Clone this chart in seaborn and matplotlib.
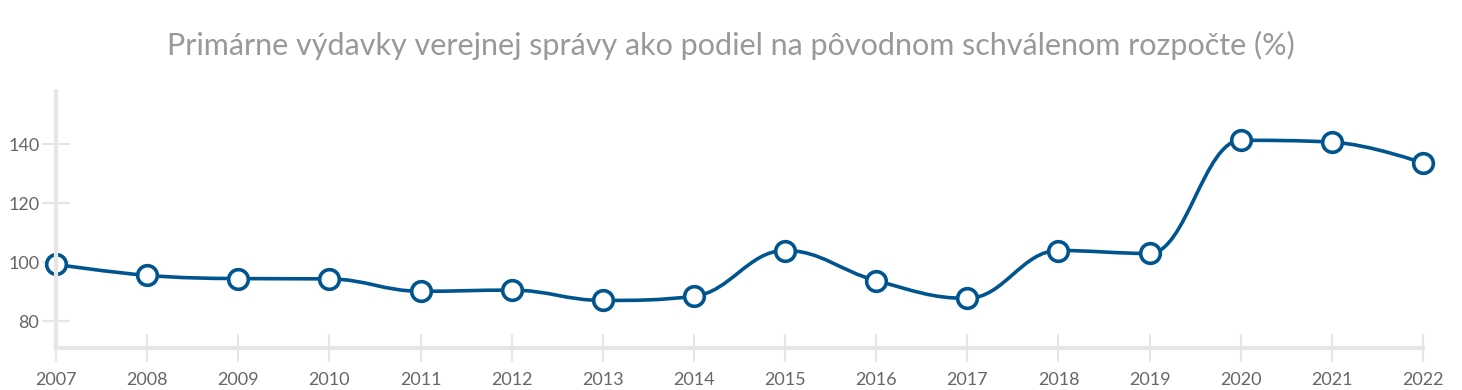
import matplotlib
matplotlib.use("Agg")
import matplotlib.pyplot as plt
from matplotlib.path import Path
from matplotlib.patches import PathPatch
import numpy as np
import pandas as pd
import seaborn as sns

# Data
years = [2007, 2008, 2009, 2010, 2011, 2012, 2013, 2014,
         2015, 2016, 2017, 2018, 2019, 2020, 2021, 2022]
values = [99.3, 95.6, 94.5, 94.4, 90.2, 90.6, 87.1, 88.5,
          104.0, 93.8, 87.8, 104.0, 103.0, 141.3, 140.7, 133.6]
y_ticks = [80, 100, 120, 140]
title = "Primárne výdavky verejnej správy ako podiel na pôvodnom schválenom rozpočte (%)"

df = pd.DataFrame({"year": years, "value": values})

blue = "#00558f"
grid_grey = "#e6e6e6"
label_grey = "#666666"

sns.set_style("white")
plt.rcParams["font.family"] = ["Lato", "DejaVu Sans"]


def spline_path(xs, ys, smoothing=1.5):
    # smooth line through the points (Highcharts-like spline control points)
    n = len(xs)
    denom = smoothing + 1
    left = [(xs[0], ys[0])] * n
    right = [(xs[0], ys[0])] * n
    for i in range(n):
        x, y = xs[i], ys[i]
        if i == 0 or i == n - 1:
            left[i] = (x, y)
            right[i] = (x, y)
            continue
        lx, ly = xs[i - 1], ys[i - 1]
        nx, ny = xs[i + 1], ys[i + 1]
        lcx = (smoothing * x + lx) / denom
        lcy = (smoothing * y + ly) / denom
        rcx = (smoothing * x + nx) / denom
        rcy = (smoothing * y + ny) / denom
        joint = (rcy - lcy) * (x - lcx) / (rcx - lcx) + lcy
        d = y - joint
        lcy += d
        rcy += d
        if lcy > ly and lcy > y:
            lcy = max(ly, y)
            rcy = 2 * y - lcy
        elif lcy < ly and lcy < y:
            lcy = min(ly, y)
            rcy = 2 * y - lcy
        if rcy > ny and rcy > y:
            rcy = max(ny, y)
            lcy = 2 * y - rcy
        elif rcy < ny and rcy < y:
            rcy = min(ny, y)
            lcy = 2 * y - rcy
        left[i] = (lcx, lcy)
        right[i] = (rcx, rcy)
    verts = [(xs[0], ys[0])]
    codes = [Path.MOVETO]
    for i in range(1, n):
        verts += [right[i - 1], left[i], (xs[i], ys[i])]
        codes += [Path.CURVE4] * 3
    return Path(verts, codes)


fig = plt.figure(figsize=(14.62, 3.9), dpi=100)
ax = fig.add_axes([56 / 1462, 42 / 390, (1423 - 56) / 1462, (348 - 91) / 390])

ax.add_patch(PathPatch(spline_path(years, values), facecolor="none",
                       edgecolor=blue, lw=2.6, zorder=3, capstyle="round"))
sns.scatterplot(data=df, x="year", y="value", ax=ax, s=200, color="white",
                edgecolor=blue, linewidth=2.6, zorder=4, clip_on=False)

ax.set_xlim(2007, 2022)
ax.set_ylim(71, 158)
ax.set_xticks(years)
ax.set_xticklabels([str(y) for y in years])
ax.set_yticks(y_ticks)
ax.set_xlabel("")
ax.set_ylabel("")

for side in ["top", "right"]:
    ax.spines[side].set_visible(False)
for side in ["left", "bottom"]:
    ax.spines[side].set_color(grid_grey)
    ax.spines[side].set_linewidth(3)
    ax.spines[side].set_zorder(5)

ax.tick_params(axis="both", direction="inout", length=20, width=1.5,
               color=grid_grey, labelcolor=label_grey, labelsize=13,
               bottom=True, left=True)
ax.tick_params(axis="x", pad=7)
ax.tick_params(axis="y", pad=2)

fig.text(0.5, 1 - 45 / 390, title, ha="center", va="center",
         fontsize=22, color="#999999")

fig.savefig("out.png", dpi=100)
